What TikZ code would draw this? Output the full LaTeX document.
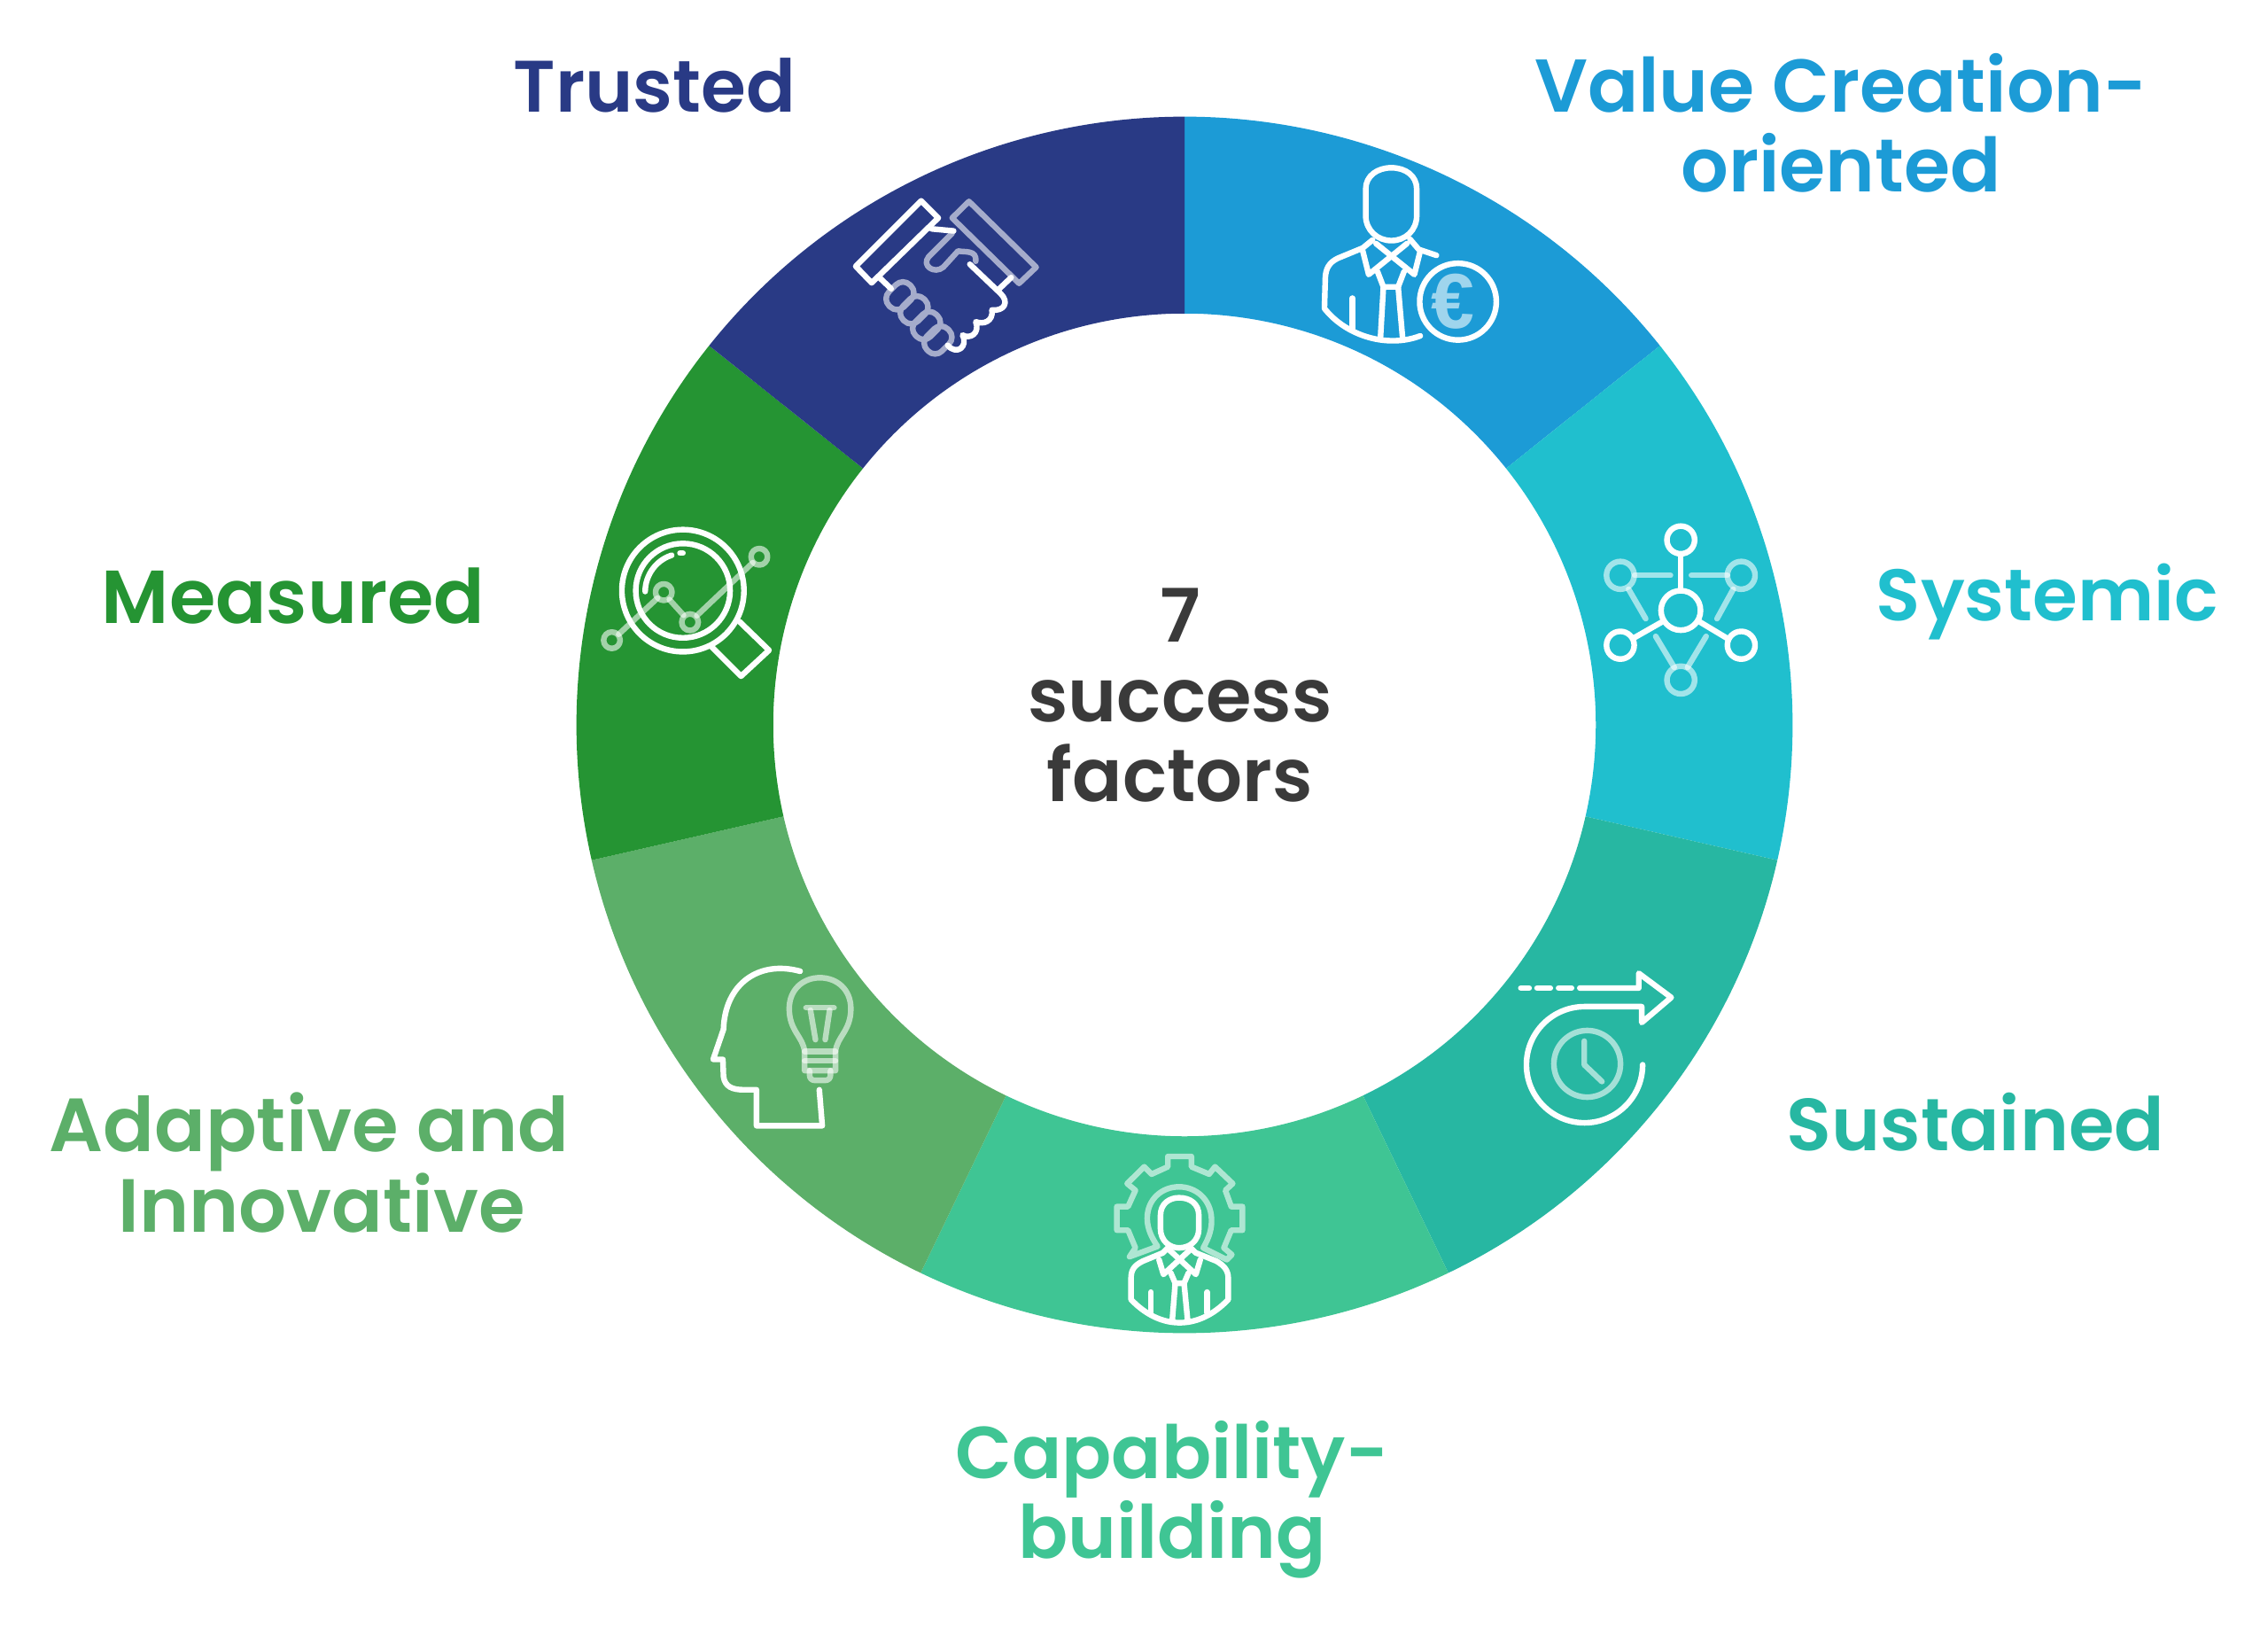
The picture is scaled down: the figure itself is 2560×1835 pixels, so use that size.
\documentclass[tikz,border=0pt]{standalone}
\usepackage{fontspec}
\setmainfont{Poppins SemiBold}
\newfontfamily\eurofont{Liberation Sans}
\definecolor{trustedblue}{HTML}{293A85}
\definecolor{valueblue}{HTML}{1C9BD6}
\definecolor{systemicteal}{HTML}{20BFCE}
\definecolor{sustainedteal}{HTML}{27B7A2}
\definecolor{capabilitygreen}{HTML}{3FC594}
\definecolor{adaptivegreen}{HTML}{5CAF69}
\definecolor{measuredgreen}{HTML}{259433}
\definecolor{centregrey}{HTML}{3A3A3A}
\tikzset{
  ringlabel/.style={align=center,font=\fontsize{#1}{25.6}\selectfont},
  whiteline/.style={draw=white,line width=0.064cm,line cap=round,line join=round},
  lightline/.style={whiteline,draw opacity=0.58},
  iconframe/.style={shift={#1},x=0.003333cm,y=-0.003333cm}
}
\begin{document}
\begin{tikzpicture}[x=0.01cm,y=-0.01cm]
\useasboundingbox (0,0) rectangle (2560,1835);
\coordinate (centre) at (1337,818);
% ring
\foreach \segcolor [count=\i from 0] in {valueblue,systemicteal,sustainedteal,capabilitygreen,adaptivegreen,measuredgreen,trustedblue}{
  \pgfmathsetmacro{\a}{90-\i*360/7}
  \pgfmathsetmacro{\b}{\a-360/7}
  \fill[\segcolor] ([shift={(\a:6.86cm)}]centre) arc[start angle=\a,end angle=\b,radius=6.86cm]
    -- ([shift={(\b:4.64cm)}]centre) arc[start angle=\b,end angle=\a,radius=4.64cm] -- cycle;
}
% labels
\node[ringlabel=23.4,text=trustedblue] (trusted) at (739,96) {Trusted};
\node[ringlabel=24,text=valueblue] (value) at (2078,139) {Value Creation-\\oriented};
\node[ringlabel=23.4,text=systemicteal] (systemic) at (2311,679) {Systemic};
\node[ringlabel=23.7,text=sustainedteal] (sustained) at (2230,1266) {Sustained};
\node[ringlabel=23.6,text=capabilitygreen] (capability) at (1323,1692) {Capability-\\building};
\node[ringlabel=24.2,text=adaptivegreen] (adaptive) at (349,1312) {Adaptive and\\\hspace*{8pt}Innovative};
\node[ringlabel=24.1,text=measuredgreen] (measured) at (331,673) {Measured};
\node[ringlabel=23.7,text=centregrey] (factors) at (1332,785) {7\\success\\factors};
% trusted icon
\begin{scope}[iconframe={(920,200)}]
\draw[whiteline] (360,80) -- (418,138) -- (192,358) -- (138,302) -- cycle;
\draw[whiteline] (218,340) -- (258,378);
\draw[whiteline] (625,378) -- (665,340);
\draw[whiteline] (395,175) -- (470,182);
\draw[whiteline] (525,295) -- (630,395) .. controls (660,425) and (640,455) .. (600,450)
  .. controls (605,490) and (570,500) .. (545,490) .. controls (560,530) and (525,550) .. (500,535)
  .. controls (520,575) and (480,605) .. (450,570);
\draw[lightline] (522,82) -- (750,305) -- (692,360) -- (465,138) -- cycle;
\draw[lightline] (465,190) -- (385,270) .. controls (360,300) and (405,330) .. (435,305)
  -- (485,250) .. controls (505,255) and (550,245) .. (545,285);
\begin{scope}[transparency group,opacity=0.58]
\foreach \fx/\fy in {288/402,336/450,378/503,417/552}
  \draw[whiteline,rounded corners=0.11cm,rotate around={45:(\fx,\fy)}] (\fx-50,\fy-36) rectangle (\fx+50,\fy+36);
\end{scope}
\end{scope}
% value icon
\begin{scope}[iconframe={(1460,170)}]
\draw[whiteline] (245,130) .. controls (245,85) and (285,58) .. (332,58) .. controls (380,58) and (418,85) .. (418,130)
  -- (418,220) .. controls (418,270) and (380,305) .. (332,305) .. controls (285,305) and (245,270) .. (245,220) -- cycle;
\draw[whiteline] (268,303) -- (235,330) -- (150,365) .. controls (120,380) and (110,400) .. (108,430) -- (105,535)
  .. controls (180,630) and (320,670) .. (430,628);
\draw[whiteline] (395,300) -- (425,335) -- (485,355);
\draw[whiteline] (235,340) -- (255,420) -- (385,315);
\draw[whiteline] (430,340) -- (410,420) -- (280,315);
\draw[whiteline] (285,410) -- (305,462) -- (355,462) -- (375,410);
\draw[whiteline] (305,462) -- (295,635);
\draw[whiteline] (355,462) -- (370,635);
\draw[whiteline] (200,500) -- (200,610);
\draw[whiteline] (558,512) circle (130);
\node[opacity=0.58,text=white,inner sep=0pt,font=\eurofont\bfseries\fontsize{25}{25}\selectfont] (euro) at (540,512) {€};
\end{scope}
% systemic icon
\begin{scope}[iconframe={(1790,580)}]
\draw[whiteline] (322,327) circle (67);
\draw[whiteline] (322,88) circle (47);
\draw[whiteline] (117,445) circle (47);
\draw[whiteline] (527,445) circle (47);
\draw[whiteline] (322,140) -- (322,260);
\draw[whiteline] (260,365) -- (160,422);
\draw[whiteline] (385,365) -- (480,422);
\draw[lightline] (117,208) circle (47);
\draw[lightline] (527,208) circle (47);
\draw[lightline] (322,563) circle (47);
\draw[lightline] (165,208) -- (287,208);
\draw[lightline] (358,208) -- (480,208);
\draw[lightline] (145,255) -- (203,355);
\draw[lightline] (500,255) -- (445,355);
\draw[lightline] (237,415) -- (300,520);
\draw[lightline] (408,415) -- (345,520);
\end{scope}
% sustained icon
\begin{scope}[iconframe={(1700,1080)}]
\draw[whiteline] (50,105) -- (78,105);
\draw[whiteline] (105,105) -- (150,105);
\draw[whiteline] (178,105) -- (222,105);
\draw[whiteline] (463,365) arc[start angle=0,end angle=270,radius=197] -- (460,168) -- (460,222) -- (560,137) -- (450,55) -- (450,105) -- (250,105);
\draw[lightline] (275,362) circle (113);
\draw[lightline] (265,285) -- (265,365) -- (325,422);
\end{scope}
% capability icon
\begin{scope}[iconframe={(1240,1290)}]
\draw[lightline] (105,385) -- (125,355) -- (100,295) -- (62,295) -- (62,215) -- (100,215) -- (125,160) -- (97,137)
  -- (155,80) -- (180,105) -- (235,80) -- (235,45) -- (315,45) -- (315,80) -- (375,105) -- (395,80) -- (455,137)
  -- (430,160) -- (450,215) -- (488,215) -- (488,295) -- (450,295) -- (425,355) -- (452,378) -- (435,395) -- (355,355)
  .. controls (375,320) and (385,290) .. (383,255) .. controls (380,190) and (330,148) .. (273,148)
  .. controls (215,148) and (165,190) .. (165,255) .. controls (165,290) and (180,320) .. (200,350) -- cycle;
\draw[whiteline] (210,245) .. controls (210,205) and (240,185) .. (273,185) .. controls (310,185) and (340,205) .. (340,245)
  -- (340,290) .. controls (340,330) and (310,355) .. (273,355) .. controls (240,355) and (210,330) .. (210,290) -- cycle;
\draw[whiteline] (235,355) -- (218,372) -- (150,400) .. controls (120,415) and (110,430) .. (110,460) -- (110,530)
  .. controls (210,635) and (340,635) .. (440,530) -- (440,460) .. controls (440,430) and (425,415) .. (400,400) -- (330,372) -- (312,355);
\draw[whiteline] (205,395) -- (220,445) -- (310,362);
\draw[whiteline] (345,395) -- (330,445) -- (240,362);
\draw[whiteline] (245,440) -- (260,475) -- (290,475) -- (305,440);
\draw[whiteline] (260,475) -- (250,600);
\draw[whiteline] (290,475) -- (302,600);
\draw[whiteline] (178,505) -- (178,575);
\draw[whiteline] (368,505) -- (368,575);
\end{scope}
% adaptive icon
\begin{scope}[iconframe={(790,1080)}]
\draw[whiteline] (340,48) .. controls (200,10) and (85,90) .. (80,245) -- (45,347) -- (78,347) -- (80,405)
  .. controls (85,440) and (110,450) .. (150,450) -- (192,450) -- (192,572) -- (415,572) -- (405,450);
\draw[lightline] (355,320) .. controls (350,270) and (303,250) .. (303,175) .. controls (303,110) and (350,70) .. (407,70)
  .. controls (465,70) and (512,110) .. (512,175) .. controls (512,250) and (465,270) .. (460,320) -- (460,385) -- (355,385) -- cycle;
\draw[lightline] (355,320) -- (460,320);
\draw[lightline] (355,352) -- (460,352);
\draw[lightline] (372,385) -- (372,400) .. controls (372,412) and (380,418) .. (390,418) -- (425,418) .. controls (435,418) and (443,412) .. (443,400) -- (443,385);
\draw[lightline] (360,172) -- (455,172);
\draw[lightline] (375,180) -- (392,280);
\draw[lightline] (440,180) -- (425,280);
\end{scope}
% measured icon
\begin{scope}[iconframe={(670,580)}]
\draw[whiteline] (303,260) circle (207);
\draw[whiteline] (303,260) circle (160);
\draw[whiteline] (400,450) -- (500,550) -- (595,462) -- (495,365);
\draw[whiteline] (175,263) .. controls (175,205) and (215,155) .. (265,140);
\draw[whiteline] (293,133) -- (303,133);
\draw[lightline] (62,428) circle (28);
\draw[lightline] (238,265) circle (28);
\draw[lightline] (327,367) circle (28);
\draw[lightline] (562,145) circle (28);
\draw[lightline] (85,408) -- (217,285);
\draw[lightline] (257,290) -- (305,343);
\draw[lightline] (350,345) -- (540,165);
\end{scope}
\end{tikzpicture}
\end{document}
